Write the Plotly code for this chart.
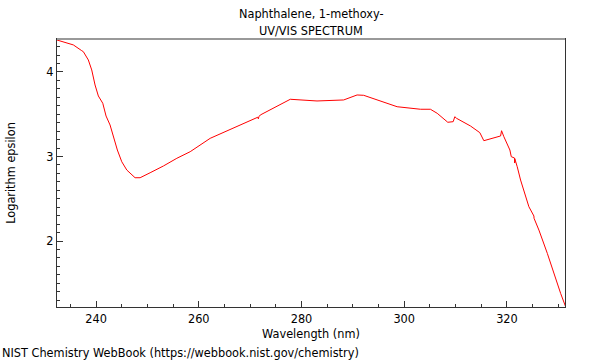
import plotly.graph_objects as go

wavelength = [232.34, 235.58, 237.21, 237.53, 238.50, 239.16, 239.81, 240.45, 241.31, 241.95,
              242.73, 243.51, 244.15, 245.01, 245.99, 247.6, 248.58, 250.53, 253.12, 255.73,
              258.33, 262.22, 266.12, 271.5, 271.6, 271.7, 271.97, 277.82, 283.02, 288.21,
              290.82, 292.11, 298.62, 303.16, 305.1, 306.42, 308.48, 309.53, 309.85, 310.18,
              312.9, 314.72, 315.5, 318.76, 318.95, 319.40, 320.57, 320.84, 321.48, 321.5,
              321.52, 322.0, 322.65, 324.27, 325.25, 325.27, 326.22, 327.86, 328.5, 328.52,
              329.48, 330.45, 331.43]
log_eps = [4.379, 4.32, 4.252, 4.24, 4.142, 4.024, 3.846, 3.716, 3.63, 3.479,
           3.373, 3.219, 3.077, 2.938, 2.84, 2.749, 2.749, 2.808, 2.888, 2.979,
           3.057, 3.215, 3.322, 3.465, 3.445, 3.47, 3.491, 3.677, 3.657, 3.669,
           3.728, 3.724, 3.589, 3.559, 3.559, 3.511, 3.405, 3.412, 3.471, 3.452,
           3.361, 3.282, 3.187, 3.243, 3.305, 3.234, 3.077, 2.998, 2.982, 2.923,
           2.975, 2.879, 2.722, 2.406, 2.296, 2.27, 2.13, 1.854, 1.736, 1.71,
           1.559, 1.381, 1.222]

title_lines = ["Naphthalene, 1-methoxy-", "UV/VIS SPECTRUM"]
x_ticks = [240, 260, 280, 300, 320]
y_ticks = [2, 3, 4]

fig = go.Figure()
fig.add_trace(go.Scatter(x=wavelength, y=log_eps, mode="lines",
                         line=dict(color="#ff0000", width=1), showlegend=False))

font = dict(family="DejaVu Sans Condensed, DejaVu Sans", size=12.6, color="#000")
fig.update_layout(
    width=600, height=360,
    margin=dict(l=57, r=35, t=39, b=53),
    paper_bgcolor="white", plot_bgcolor="white",
    font=font,
    xaxis=dict(range=[232.4, 331.3], tickvals=x_ticks, ticks="inside", ticklen=6,
               tickcolor="#333", showline=True, linecolor="#333", linewidth=1, mirror=True,
               showgrid=False, zeroline=False, automargin=False,
               minor=dict(ticks="inside", ticklen=3, dtick=5, tick0=0, tickcolor="#333"),
               title=dict(text="Wavelength (nm)", standoff=3, font=font)),
    yaxis=dict(range=[1.22, 4.39], tickvals=y_ticks, ticks="inside", ticklen=6,
               tickcolor="#333", showline=True, linecolor="#333", linewidth=1, mirror=True,
               showgrid=False, zeroline=False, automargin=False,
               minor=dict(ticks="inside", ticklen=3, dtick=0.1, tick0=0, tickcolor="#333"),
               title=dict(text="Logarithm epsilon", standoff=27, font=font)),
)
fig.add_shape(type="line", xref="paper", yref="paper", x0=0, x1=1, y0=1, y1=1,
              line=dict(color="#999", width=2))
for text, py in zip(title_lines, [14, 30]):
    fig.add_annotation(text=text, xref="paper", yref="paper", x=(311 - 57) / 508,
                       y=(307 - py) / 268, xanchor="center", yanchor="middle",
                       showarrow=False, font=font)
fig.add_annotation(text="NIST Chemistry WebBook (https://webbook.nist.gov/chemistry)",
                   xref="paper", yref="paper", x=-57/508, y=-45/268, xanchor="left",
                   yanchor="middle", showarrow=False, font=font)
fig.write_html("out.html", config={"displayModeBar": False},
               post_script="document.body.style.margin='0';document.body.style.overflow='hidden';")
